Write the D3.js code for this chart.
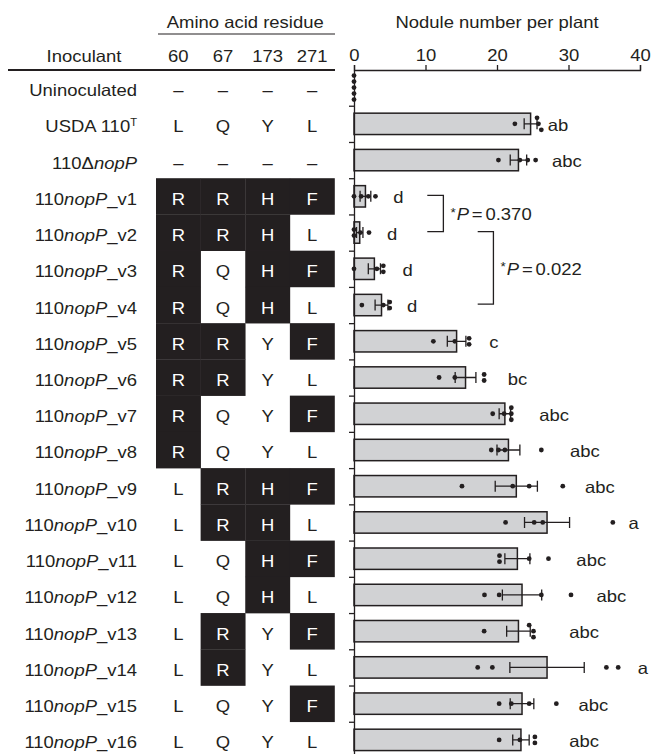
<!DOCTYPE html>
<html>
<head>
<meta charset="utf-8">
<script src="https://cdn.jsdelivr.net/npm/d3@7/dist/d3.min.js"></script>
<style>
  body { margin: 0; background: #fff; }
  svg { display: block; font-family: "Liberation Sans", Arial, Helvetica, sans-serif; }
</style>
</head>
<body>
<script>
const width = 651;
const height = 754;

// rows, top to bottom
const strains = ['Uninoculated', 'USDA 110^T', '110\u0394nopP',
  '110nopP_v1', '110nopP_v2', '110nopP_v3', '110nopP_v4', '110nopP_v5', '110nopP_v6',
  '110nopP_v7', '110nopP_v8', '110nopP_v9', '110nopP_v10', '110nopP_v11', '110nopP_v12',
  '110nopP_v13', '110nopP_v14', '110nopP_v15', '110nopP_v16'];

const residueSites = ['60', '67', '173', '271'];
const wildType = ['L', 'Q', 'Y', 'L'];
const residues = [
  ['–', '–', '–', '–'],
  ['L', 'Q', 'Y', 'L'],
  ['–', '–', '–', '–'],
  ['R', 'R', 'H', 'F'],
  ['R', 'R', 'H', 'L'],
  ['R', 'Q', 'H', 'F'],
  ['R', 'Q', 'H', 'L'],
  ['R', 'R', 'Y', 'F'],
  ['R', 'R', 'Y', 'L'],
  ['R', 'Q', 'Y', 'F'],
  ['R', 'Q', 'Y', 'L'],
  ['L', 'R', 'H', 'F'],
  ['L', 'R', 'H', 'L'],
  ['L', 'Q', 'H', 'F'],
  ['L', 'Q', 'H', 'L'],
  ['L', 'R', 'Y', 'F'],
  ['L', 'R', 'Y', 'L'],
  ['L', 'Q', 'Y', 'F'],
  ['L', 'Q', 'Y', 'L']
];

// nodules per plant: mean, s.e.m. and single plants
const noduleMean = [0, 24.7, 23.0, 1.6, 0.8, 2.85, 3.85, 14.35, 15.6, 21.1, 21.6,
  22.7, 27.0, 22.85, 23.5, 23.0, 27.0, 23.5, 23.35];
const noduleSem = [0, 0.9, 1.15, 0.75, 0.45, 0.85, 0.9, 1.3, 1.45, 0.8, 1.6,
  2.95, 3.15, 1.75, 2.75, 1.65, 5.2, 1.65, 1.15];
const noduleDots = [
  [0, 0, 0, 0, 0],
  [22.5, 25.6, 25.8, 26.2],
  [20.2, 23.2, 24.3, 25.4],
  [0, 1.0, 2.0, 3.0],
  [0, 0, 0.9, 2.1],
  [0, 3.2, 4.1, 4.1],
  [1.1, 4.1, 5.0, 5.0],
  [11.1, 14.1, 16.1, 16.1],
  [11.9, 14.1, 18.2, 18.2],
  [19.4, 21.0, 22.0, 22.0, 22.0],
  [19.2, 20.2, 21.1, 26.2],
  [15.1, 22.2, 24.5, 29.2],
  [21.2, 25.2, 26.4, 36.2],
  [20.35, 20.35, 24.5, 27.2],
  [18.25, 20.3, 26.2, 30.35],
  [18.2, 24.5, 25.1, 25.1],
  [17.3, 19.35, 35.3, 36.95],
  [20.3, 22.0, 24.5, 28.3],
  [20.3, 23.2, 25.3, 25.3]
];

const letters = ['', 'ab', 'abc', 'd', 'd', 'd', 'd', 'c', 'bc', 'abc', 'abc',
  'abc', 'a', 'abc', 'abc', 'abc', 'a', 'abc', 'abc'];
// where each letter group starts, in nodules
const letterAt = [0, 27.1, 27.7, 5.5, 4.6, 6.8, 7.4, 18.9, 21.5, 25.9, 30.2,
  32.3, 38.4, 31.1, 33.9, 30.1, 39.7, 31.4, 30.1];

const comparisons = [
  { rows: [3, 4], p: '0.370' },
  { rows: [4, 6], p: '0.022' }
];
const bracketAt = [[10.25, 12.5], [17.3, 19.5]];

const ink = '#231f20';
const fontSize = 16.5;
const stretch = 1.12;

const svg = d3.select('body').append('svg')
    .attr('width', width)
    .attr('height', height);

const x = d3.scaleLinear().domain([0, 40]).range([354, 640]);
const y = d3.scaleBand().domain(d3.range(strains.length)).range([69.5, 758]);
const rowEdge = d3.scaleLinear().domain([0, strains.length]).range(y.range());
const col = d3.scaleBand().domain(residueSites).range([156, 334.5]);
const cy = i => y(i) + y.bandwidth() / 2;

function label(g, px, py, anchor) {
    return g.append('text')
        .attr('transform', `translate(${px},${py}) scale(${stretch},1)`)
        .attr('text-anchor', anchor || 'start')
        .attr('font-size', fontSize)
        .attr('fill', ink);
}

// ---- table ----
const table = svg.append('g').classed('table', true);

label(table, (col.range()[0] + col.range()[1]) / 2, 28, 'middle').text('Amino acid residue');
table.append('line').attr('x1', 158).attr('x2', 335).attr('y1', 34).attr('y2', 34)
    .attr('stroke', ink).attr('stroke-width', 1.2);
label(table, 84, 62, 'middle').text('Inoculant');
residueSites.forEach(s => label(table, col(s) + col.bandwidth() / 2, 62, 'middle').text(s));
table.append('line').attr('x1', 8).attr('x2', 335).attr('y1', 70).attr('y2', 70)
    .attr('stroke', ink).attr('stroke-width', 2);

strains.forEach((s, i) => {
    const t = label(table, 137, cy(i) + 8.5, 'end');
    const m = s.match(/^(110\u0394?)(nopP)(.*)$/);
    if (m) {
        t.append('tspan').text(m[1]);
        t.append('tspan').attr('font-style', 'italic').text(m[2]);
        t.append('tspan').text(m[3]);
    } else if (s.includes('^')) {
        const [a, b] = s.split('^');
        t.append('tspan').text(a);
        t.append('tspan').attr('font-size', 10).attr('dy', -6.5).text(b);
    } else {
        t.text(s);
    }

    residues[i].forEach((r, j) => {
        const mutated = r !== '–' && r !== wildType[j];
        if (mutated) {
            table.append('rect')
                .attr('x', col(residueSites[j]))
                .attr('y', y(i))
                .attr('width', col.bandwidth() + 0.3)
                .attr('height', y.bandwidth() + 0.3)
                .attr('fill', ink);
        }
        label(table, col(residueSites[j]) + col.bandwidth() / 2, cy(i) + 8.5, 'middle')
            .attr('fill', mutated ? '#fff' : ink)
            .text(r);
    });
});

// ---- bar chart ----
const chart = svg.append('g').classed('bars', true);
const barH = y.bandwidth() * 0.59;

chart.selectAll('rect')
    .data(noduleMean.map((v, i) => ({ v, i })).filter(d => d.v > 0))
    .enter().append('rect')
    .attr('x', x(0))
    .attr('y', d => cy(d.i) - barH / 2)
    .attr('width', d => x(d.v) - x(0))
    .attr('height', barH)
    .attr('fill', '#d1d2d4')
    .attr('stroke', ink)
    .attr('stroke-width', 1.5);

const errors = chart.append('g').attr('stroke', ink).attr('stroke-width', 1.3).attr('fill', 'none');
noduleMean.forEach((m, i) => {
    const se = noduleSem[i];
    if (!se) return;
    const c = cy(i);
    errors.append('path')
        .attr('d', `M${x(m - se)},${c}H${x(m + se)}` +
            `M${x(m - se)},${c - 5.5}V${c + 5.5}M${x(m + se)},${c - 5.5}V${c + 5.5}`);
});

// single plants, stacked where they overlap
function swarm(values, c) {
    const pts = values.map(v => ({ px: x(v) })).sort((a, b) => a.px - b.px);
    const groups = [];
    pts.forEach(p => {
        const g = groups[groups.length - 1];
        if (g && p.px - g[g.length - 1].px < 5) g.push(p); else groups.push([p]);
    });
    groups.forEach(g => g.forEach((p, k) => { p.py = c + (k - (g.length - 1) / 2) * 6; }));
    return pts;
}

const dots = chart.append('g').attr('fill', ink);
noduleDots.forEach((vals, i) => {
    dots.selectAll(null)
        .data(swarm(vals, cy(i)))
        .enter().append('circle')
        .attr('cx', d => d.px)
        .attr('cy', d => d.py)
        .attr('r', 2.4);
});

letters.forEach((l, i) => {
    if (l) label(chart, x(letterAt[i]), cy(i) + 7).text(l);
});

// significance brackets
comparisons.forEach((c, k) => {
    const y1 = cy(c.rows[0]) - 1;
    const y2 = cy(c.rows[1]) - 1;
    const [a, b] = bracketAt[k].map(x);
    chart.append('path')
        .attr('d', `M${a},${y1}H${b}V${y2}H${a}`)
        .attr('fill', 'none')
        .attr('stroke', ink)
        .attr('stroke-width', 1.3);
    const t = label(chart, b + 7, (y1 + y2) / 2 + 7);
    t.append('tspan').attr('font-size', 12).attr('dy', -3.5).text('*');
    t.append('tspan').attr('font-style', 'italic').attr('dy', 3.5).attr('dx', 1).text('P');
    t.append('tspan').attr('dx', 2.5).text('=');
    t.append('tspan').attr('dx', 2.5).text(c.p);
});

// ---- axes ----
function styleAxis(g) {
    g.selectAll('.domain, .tick line').attr('stroke', ink).attr('stroke-width', 1.3);
    g.selectAll('.tick text')
        .attr('font-size', fontSize)
        .attr('font-family', null)
        .attr('fill', ink)
        .attr('transform', `scale(${stretch},1)`);
}

svg.append('g')
    .classed('xAxis', true)
    .attr('transform', 'translate(0,70)')
    .call(d3.axisTop(x).ticks(4).tickSize(5).tickPadding(4))
    .call(styleAxis)
    .attr('font-family', null);

svg.append('g')
    .classed('yAxis', true)
    .attr('transform', `translate(${x(0)},0)`)
    .call(d3.axisLeft(rowEdge).tickValues(d3.range(1, strains.length)).tickFormat('').tickSize(5).tickSizeOuter(0))
    .call(styleAxis);

label(svg, (x.range()[0] + x.range()[1]) / 2, 28, 'middle').text('Nodule number per plant');
</script>
</body>
</html>
